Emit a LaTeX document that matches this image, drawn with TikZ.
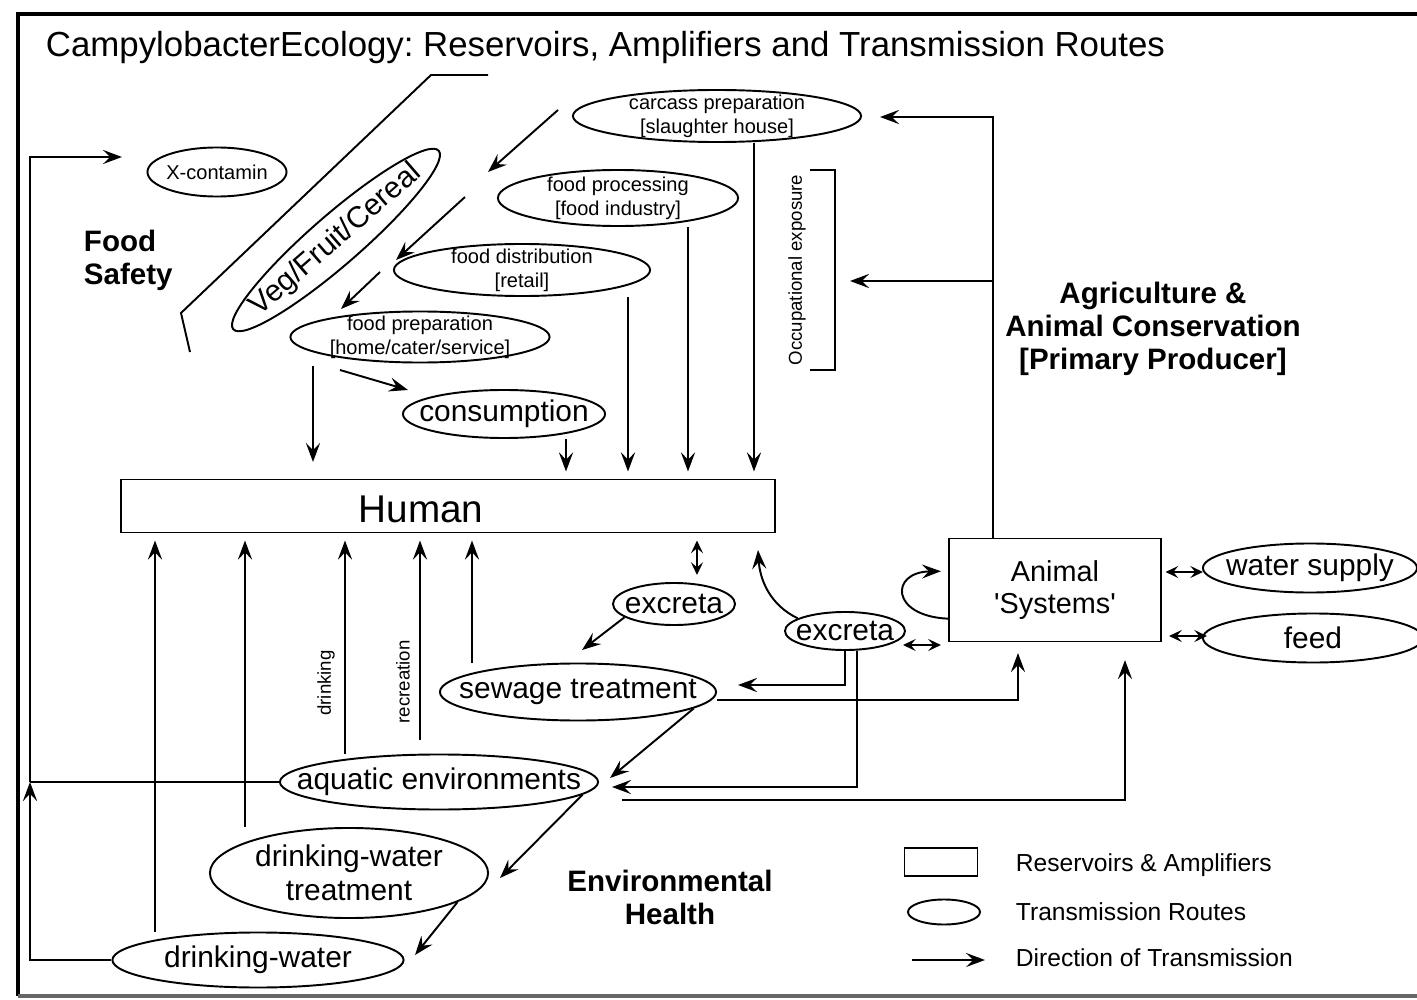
\documentclass[tikz,border=0pt]{standalone}
\usepackage{fontspec}
\setmainfont{Liberation Sans}
\usetikzlibrary{shapes.geometric,arrows.meta}
\frenchspacing
\begin{document}
\begin{tikzpicture}[x=0.01cm, y=-0.01cm, line width=0.55pt,
    >={Stealth[length=5.4pt,width=4pt,inset=2pt]},
    route/.style={ellipse, draw, inner xsep=-2cm, inner ysep=-1cm},
    pool/.style={rectangle, draw, inner sep=0pt},
    small/.style={font=\fontsize{5.7}{6.9}\selectfont, align=center},
    big/.style={font=\fontsize{8.5}{9.7}\selectfont, align=center},
    head/.style={font=\bfseries\fontsize{8.4}{9.4}\selectfont, align=center, inner sep=0pt},
    side/.style={font=\fontsize{5.3}{6}\selectfont, rotate=90, inner sep=0pt},
    key/.style={font=\fontsize{7}{8}\selectfont, anchor=west, inner sep=0pt},
    into/.style={->, shorten >=2pt},
    both/.style={{Stealth[length=3.6pt,width=3.4pt,inset=1.4pt]}-{Stealth[length=3.6pt,width=3.4pt,inset=1.4pt]}}]
\useasboundingbox (0,0) rectangle (1417,1000);
\draw[line width=1.4pt] (1417,14) -- (18,14) -- (18,996);
\draw[line width=1pt, black!60] (18,996) -- (1417,996);
\node[anchor=base west, inner sep=0pt, font=\fontsize{9.9}{12}\selectfont] (title) at (45,57)
    {CampylobacterEcology: Reservoirs, Amplifiers and Transmission Routes};

\node[route, small, minimum width=1.39cm, minimum height=0.49cm] (xcont) at (217,172) {X-contamin};
\node[route, small, minimum width=2.88cm, minimum height=0.52cm] (carcass) at (717,116) {carcass preparation\\{}[slaughter house]};
\node[route, small, minimum width=2.40cm, minimum height=0.56cm] (proc) at (618,198) {food processing\\{}[food industry]};
\node[route, small, minimum width=2.56cm, minimum height=0.52cm] (distr) at (522,270) {food distribution\\{}[retail]};
\node[route, small, minimum width=2.59cm, minimum height=0.51cm] (prep) at (420,337) {food preparation\\{}[home/cater/service]};
\node[route, big, rotate=41, minimum width=2.72cm, minimum height=0.50cm] (veg) at (336,240) {Veg/Fruit/Cereal};
\node[route, big, minimum width=2.02cm, minimum height=0.48cm] (cons) at (504,414) {consumption};
\node[pool, minimum width=6.54cm, minimum height=0.53cm] (human) at (448,506) {};
\node[font=\fontsize{11}{13}\selectfont] (humantext) at (421,509) {Human};
\node[route, big, minimum width=1.22cm, minimum height=0.42cm] (excA) at (674,604) {excreta};
\node[route, big, minimum width=1.20cm, minimum height=0.38cm] (excB) at (845,631) {excreta};
\node[pool, font=\fontsize{8.2}{9.1}\selectfont, align=center, minimum width=2.12cm, minimum height=1.03cm] (animal) at (1055,590)
    {Animal\\\textquotesingle Systems\textquotesingle};
\node[route, big, minimum width=2.14cm, minimum height=0.49cm] (water) at (1310,568) {water supply};
\node[route, big, minimum width=2.20cm, minimum height=0.49cm] (feed) at (1313,638) {feed};
\node[route, big, minimum width=2.76cm, minimum height=0.57cm] (sewage) at (578,692) {sewage treatment};
\node[route, big, minimum width=3.18cm, minimum height=0.55cm] (aquatic) at (439,782) {aquatic environments};
\node[route, big, minimum width=2.78cm, minimum height=0.90cm] (dwt) at (349,873) {drinking-water\\treatment};
\node[route, big, minimum width=2.91cm, minimum height=0.55cm] (dw) at (258,960) {drinking-water};

\node[head, align=left, anchor=west] (food) at (83,260) {Food\\Safety};
\node[head] (agri) at (1153,329) {Agriculture \&\\Animal Conservation\\{}[Primary Producer]};
\node[head] (env) at (670,897) {Environmental\\Health};
\node[side] (occ) at (797,270) {Occupational exposure};
\node[side] (drink) at (326,683) {drinking};
\node[side] (recr) at (403,682) {recreation};

\draw (190,352) -- (181,313) -- (431,75) -- (488,75);
\draw (810,170) -| (835,370) -- (810,370);

\coordinate (a1) at (558,110); \coordinate (a1e) at (488,172);
\coordinate (a2) at (465,197); \coordinate (a2e) at (396,260);
\coordinate (a3) at (380,272); \coordinate (a3e) at (341,309);
\coordinate (a4) at (313,366); \coordinate (a4e) at (313,462);
\coordinate (a5) at (340,370); \coordinate (a5e) at (408,390);
\draw[->] (a1) -- (a1e);
\draw[->] (a2) -- (a2e);
\draw[->] (a3) -- (a3e);
\draw[->] (a4) -- (a4e);
\draw[->] (a5) -- (a5e);
\draw[into] (cons.south -| 566,0) -- (566,0 |- human.north);
\draw[into] (distr.south -| 628,0) -- (628,0 |- human.north);
\draw[into] (proc.south -| 688,0) -- (688,0 |- human.north);
\draw[into] (carcass.south -| 754,0) -- (754,0 |- human.north);

\coordinate (trunk) at (993,117); \coordinate (ctip) at (880,117); \coordinate (otip) at (850,281);
\draw[->] (animal.north -| trunk) -- (trunk) -- (ctip);
\draw[->] (trunk |- otip) -- (otip);

\coordinate (rec) at (420,740);
\draw[into] (dw.north -| 155,0) -- (155,0 |- human.south);
\draw[into] (dwt.north -| 245,0) -- (245,0 |- human.south);
\draw[into] (aquatic.north -| 345,0) -- (345,0 |- human.south);
\draw[into] (rec) -- (rec |- human.south);
\draw[into] (sewage.north -| 472,0) -- (472,0 |- human.south);
\draw[both, shorten <=2pt, shorten >=2pt] (excA.north -| 697,0) -- (697,0 |- human.south);
\coordinate (htip) at (758,550);
\draw[->] (excB.165) .. controls (770,605) and (760,580) .. (htip);
\coordinate (sw1) at (582,650); \coordinate (sw2) at (738,685); \coordinate (aq1) at (612,787);
\draw[->] (excA.195) -- (sw1);
\draw[->] (excB.south) |- (sw2);
\draw[->] (excB.south -| 857,0) |- (aq1);
\coordinate (eb) at (903,645);
\draw[both, shorten >=2pt] (eb) -- (animal.west |- eb);
\draw[->, shorten >=2pt] (animal.195) .. controls (890,616) and (890,572) .. (animal.170);
\coordinate (ws) at (1203,572); \coordinate (fd) at (1207,636);
\draw[both, shorten <=1pt] (animal.east |- ws) -- (ws);
\draw[both, shorten <=2pt] (animal.east |- fd) -- (fd);

\coordinate (s1) at (717,700); \coordinate (s2) at (622,800);
\draw[->, shorten >=3pt] (s1) -| (1018,0 |- animal.south);
\draw[->, shorten >=5pt] (s2) -| (1125,0 |- animal.south);
\coordinate (aq2) at (610,778); \coordinate (dt1) at (500,878); \coordinate (dw1) at (415,955);
\draw[->] (sewage.-8) -- (aq2);
\draw[->] (aquatic.-5) -- (dt1);
\draw[->] (dwt.-15) -- (dw1);

\coordinate (lj) at (30,782); \coordinate (xtip) at (122,157);
\draw[->] (dw.west) -| (lj);
\draw (aquatic.west) -- (lj);
\draw[->] (lj) |- (xtip);

\node[pool, minimum width=0.73cm, minimum height=0.28cm] (keybox) at (941,862) {};
\node[route, minimum width=0.72cm, minimum height=0.25cm] (keyroute) at (944,912) {};
\coordinate (keya) at (912,960); \coordinate (keyb) at (985,960);
\draw[->] (keya) -- (keyb);
\node[key] (keyboxtext) at (1015,865) {Reservoirs \& Amplifiers};
\node[key] (keyroutetext) at (1015,912) {Transmission Routes};
\node[key] (keyarrowtext) at (1015,958) {Direction of Transmission};
\end{tikzpicture}
\end{document}
